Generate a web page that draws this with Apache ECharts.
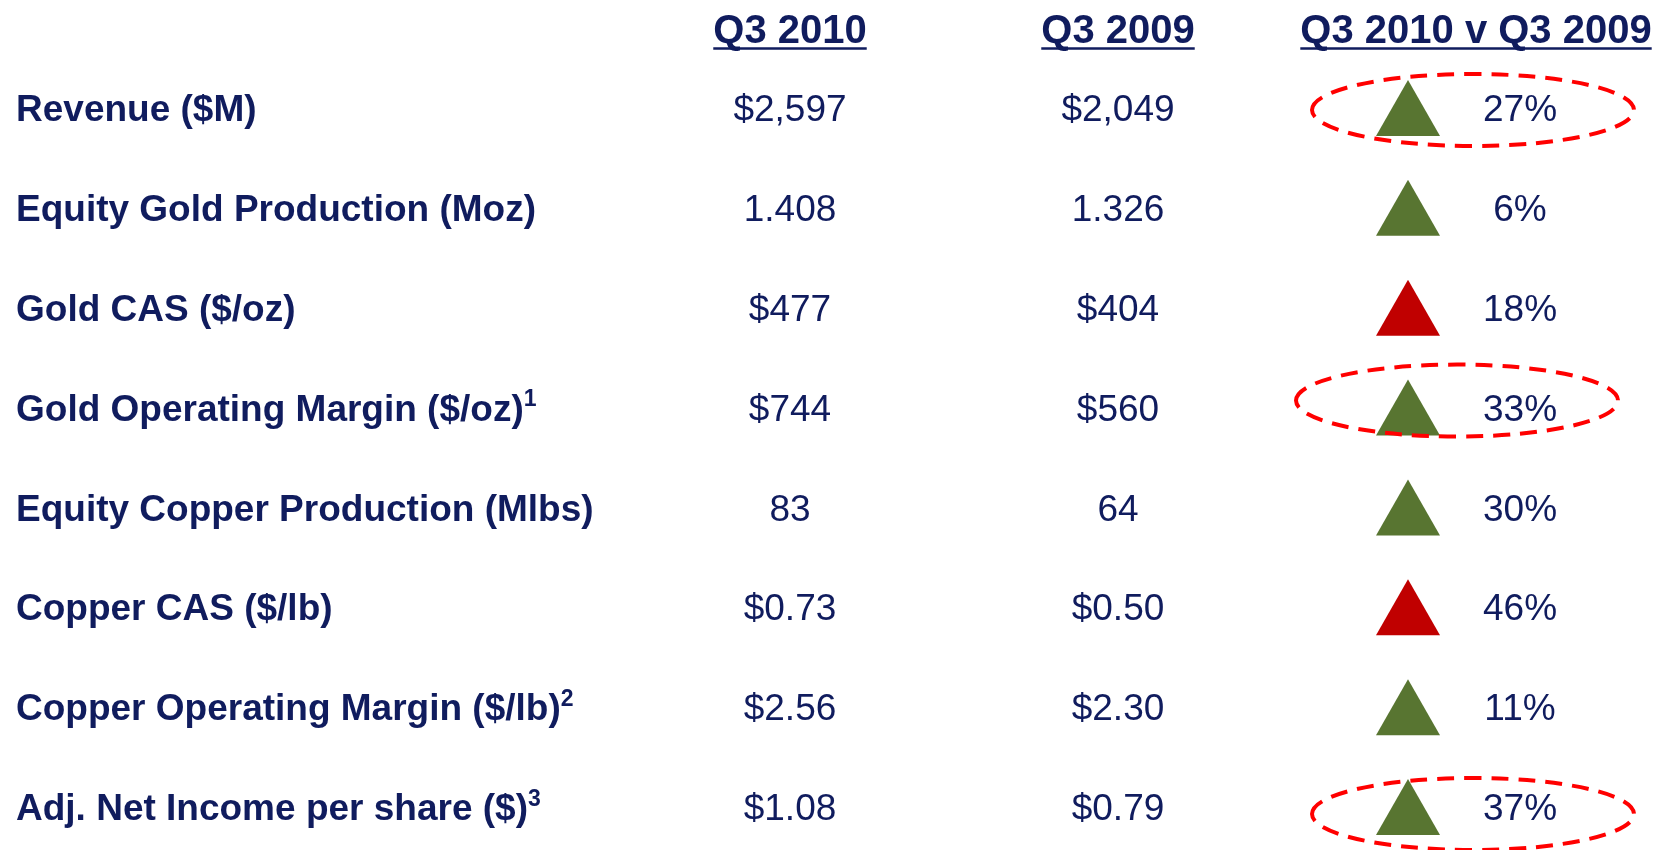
<!DOCTYPE html>
<html>
<head>
<meta charset="utf-8">
<title>Q3 2010 v Q3 2009</title>
<script src="https://cdn.jsdelivr.net/npm/echarts@6/dist/echarts.min.js"></script>
<style>
  html, body { margin: 0; padding: 0; background: #ffffff; }
  #chart { width: 1655px; height: 850px; }
</style>
</head>
<body>
<div id="chart"></div>
<script>
// table content
const metrics = [
  "Revenue ($M)",
  "Equity Gold Production (Moz)",
  "Gold CAS ($/oz)",
  "Gold Operating Margin ($/oz)",
  "Equity Copper Production (Mlbs)",
  "Copper CAS ($/lb)",
  "Copper Operating Margin ($/lb)",
  "Adj. Net Income per share ($)",
];
const footnotes = ["", "", "", "1", "", "", "2", "3"];
const q3_2010 = ["$2,597", "1.408", "$477", "$744", "83", "$0.73", "$2.56", "$1.08"];
const q3_2009 = ["$2,049", "1.326", "$404", "$560", "64", "$0.50", "$2.30", "$0.79"];
const changePct = [27, 6, 18, 33, 30, 46, 11, 37];
const favourable = [true, true, false, true, true, false, true, true];
const circled = [true, false, false, true, false, false, false, true];
const headers = ["Q3 2010", "Q3 2009", "Q3 2010 v Q3 2009"];

// layout (x in axis units = px)
const NAVY = "#101c5e";
const FONT = '"Liberation Sans", Arial, sans-serif';
const colX = { label: 16, y2010: 790, y2009: 1118, arrow: 1408, pct: 1520 };
const headerX = [790, 1118, 1476];
const textDy = 3; // glyphs sit a bit above the "middle" baseline
const ringOffset = { 0: [65, 2], 3: [49, -7], 7: [65, 7] };

const chart = echarts.init(document.getElementById("chart"));

const measure = (() => {
  const ctx = document.createElement("canvas").getContext("2d");
  return (text, font) => {
    ctx.font = font;
    return ctx.measureText(text).width;
  };
})();

const headerFont = "bold 40px " + FONT;
const headerGraphics = [];
headers.forEach((h, k) => {
  const w = measure(h, headerFont);
  headerGraphics.push({
    type: "text",
    x: headerX[k],
    y: 32,
    style: {
      text: h,
      font: headerFont,
      fill: NAVY,
      align: "center",
      verticalAlign: "middle",
    },
  });
  headerGraphics.push({
    type: "line",
    shape: { x1: headerX[k] - w / 2, y1: 48.5, x2: headerX[k] + w / 2, y2: 48.5 },
    style: { stroke: NAVY, lineWidth: 2.5 },
  });
});

const renderRow = (params, api) => {
  const i = params.dataIndex;
  const at = (x) => api.coord([x, i]);
  const y = at(0)[1];
  const ty = y + textDy;
  const children = [];

  const sup = footnotes[i] ? "{s|" + footnotes[i] + "}" : "";
  children.push({
    type: "text",
    style: {
      x: at(colX.label)[0],
      y: ty,
      text: "{m|" + metrics[i] + "}" + sup,
      align: "left",
      verticalAlign: "middle",
      fill: NAVY,
      rich: {
        m: { fontFamily: FONT, fontSize: 37, fontWeight: "bold", fill: NAVY, lineHeight: 44 },
        s: { fontFamily: FONT, fontSize: 23, fontWeight: "bold", fill: NAVY, lineHeight: 41, verticalAlign: "top" },
      },
    },
  });

  [[colX.y2010, q3_2010[i]], [colX.y2009, q3_2009[i]], [colX.pct, changePct[i] + "%"]].forEach(([x, t]) => {
    children.push({
      type: "text",
      style: {
        x: at(x)[0],
        y: ty,
        text: t,
        font: "37px " + FONT,
        fill: NAVY,
        align: "center",
        verticalAlign: "middle",
      },
    });
  });

  const ax = at(colX.arrow)[0];
  children.push({
    type: "polygon",
    shape: { points: [[ax, y - 28], [ax - 32, y + 28], [ax + 32, y + 28]] },
    style: { fill: favourable[i] ? "#587531" : "#c00000" },
  });

  if (circled[i]) {
    const off = ringOffset[i] || [65, 0];
    children.push({
      type: "ellipse",
      shape: { cx: ax + off[0], cy: y + off[1], rx: 161, ry: 36 },
      style: { fill: "none", stroke: "#ff0000", lineWidth: 4, lineDash: [17, 10] },
    });
  }

  return { type: "group", children };
};

chart.setOption({
  animation: false,
  backgroundColor: "#ffffff",
  grid: { left: 0, right: 0, top: 108, bottom: 43 },
  xAxis: { type: "value", min: 0, max: 1655, show: false },
  yAxis: { type: "category", data: metrics, inverse: true, boundaryGap: false, show: false },
  graphic: headerGraphics,
  series: [
    {
      type: "custom",
      clip: false,
      renderItem: renderRow,
      data: metrics.map((m, i) => [0, i]),
      encode: { x: 0, y: 1 },
    },
  ],
});

window.addEventListener("resize", () => chart.resize());
</script>
</body>
</html>
